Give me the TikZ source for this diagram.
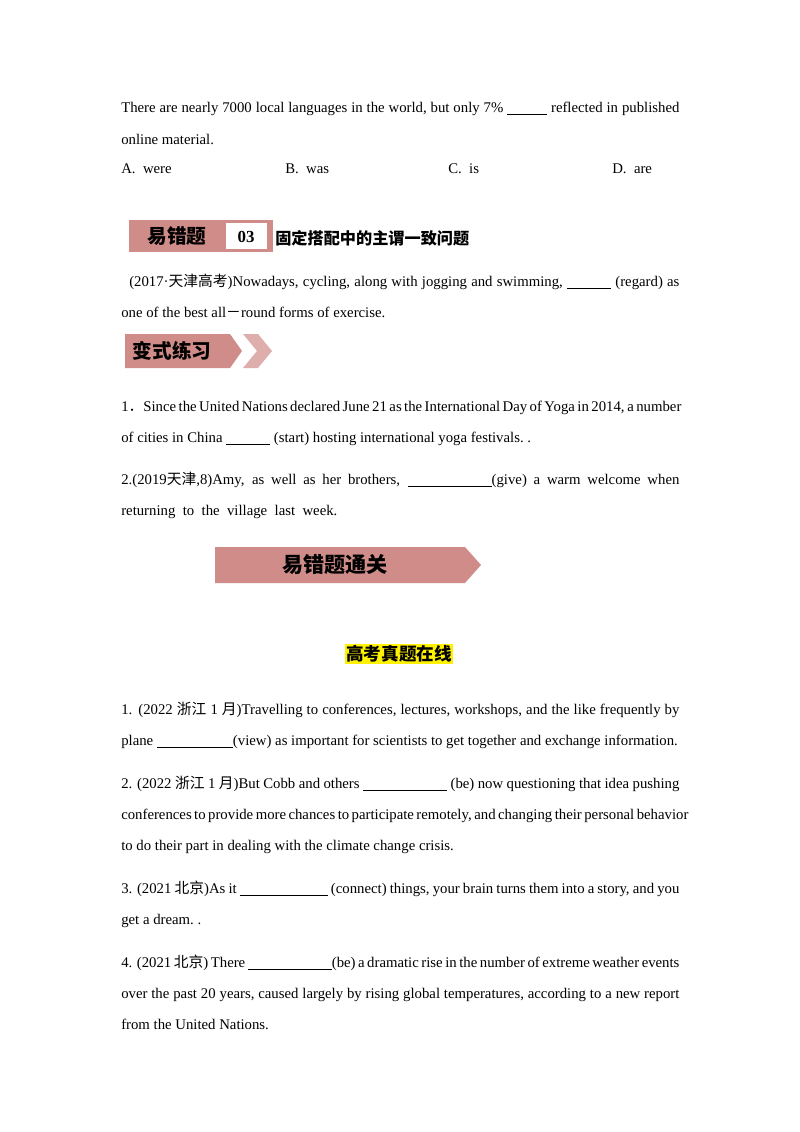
\documentclass[tikz,border=0pt]{standalone}
\usepackage{fontspec}
\setmainfont{Liberation Serif}
\newfontfamily\cjk{Noto Sans CJK SC}
\definecolor{pk}{RGB}{208,140,136}
\newcommand\jl[1]{\makebox[13.95cm][s]{#1}}
\newcommand\bl{\underline{\hspace{1.1cm}}}
\begin{document}
\begin{tikzpicture}[x=0.025cm,y=-0.025cm,
  tx/.style={anchor=base west,inner sep=0,font=\fontsize{10.5}{12}\selectfont},
  bn/.style={font=\cjk\bfseries\fontsize{14}{16}\selectfont,inner sep=0}]
\useasboundingbox (0,0) rectangle (800,1132);
\node[tx] (l1) at (121,112) {\jl{There are nearly 7000 local languages in the world, but only 7\% \underline{\hspace{1cm}} reflected in published}};
\node[tx] (l2) at (121,144) {online material.};
\node[tx] (a) at (121,173) {A.\ \ were};
\node[tx] (b) at (285,173) {B.\ \ was};
\node[tx] (c) at (448,173) {C.\ \ is};
\node[tx] (d) at (612,173) {D.\ \ are};
% banner 1
\fill[pk] (129,220) rectangle (273,252);
\fill[white] (226,223) rectangle (267,249);
\node[bn] (b1) at (177,236) {易错题};
\node[font=\bfseries\fontsize{12}{14}\selectfont,inner sep=0] (n03) at (246,237) {03};
\node[tx,anchor=west,font=\cjk\bfseries\fontsize{11.5}{13}\selectfont] (t1) at (275,238) {固定搭配中的主谓一致问题};
\node[tx] (l3) at (129,286) {\makebox[13.75cm][s]{(2017·{\cjk 天津高考})Nowadays, cycling, along with jogging and swimming, \bl\ (regard) as}};
\node[tx] (l4) at (121,317) {one of the best all{\cjk －}round forms of exercise.};
% banner 2
\fill[pk] (125,334) -- (230,334) -- (242,351) -- (230,368) -- (125,368) -- cycle;
\fill[pk!70] (243,334) -- (258,334) -- (272,351) -- (258,368) -- (243,368) -- (257,351) -- cycle;
\node[bn] (b2) at (172,351) {变式练习};
\node[tx] (l5) at (121,411) {\jl{1{\cjk ．}Since the United Nations declared June 21 as the International Day of Yoga in 2014, a number}};
\node[tx] (l6) at (121,442) {of cities in China \bl\ (start) hosting international yoga festivals.\ .};
\node[tx] (l7) at (121,484) {\jl{2.(2019{\cjk 天津},8)Amy, as well as her brothers, \underline{\hspace{2.1cm}}(give) a warm welcome when}};
\node[tx] (l8) at (121,515) {returning\ \ to\ \ the\ \ village\ \ last\ \ week.};
% banner 3
\fill[pk] (215,547) -- (465,547) -- (481,565) -- (465,583) -- (215,583) -- cycle;
\node[bn,font=\cjk\bfseries\fontsize{15}{17}\selectfont] (b3) at (335,565) {易错题通关};
\node[fill=yellow,inner sep=1pt,font=\cjk\bfseries\fontsize{12.5}{14}\selectfont] (h) at (399,654) {高考真题在线};
\node[tx] (p1) at (121,714) {\jl{1. (2022 {\cjk 浙江} 1 {\cjk 月})Travelling to conferences, lectures, workshops, and the like frequently by}};
\node[tx] (p2) at (121,745) {plane \underline{\hspace{1.9cm}}(view) as important for scientists to get together and exchange information.};
\node[tx] (p3) at (121,788) {\jl{2. (2022 {\cjk 浙江} 1 {\cjk 月})But Cobb and others \underline{\hspace{2.1cm}} (be) now questioning that idea pushing}};
\node[tx] (p4) at (121,819) {\jl{conferences to provide more chances to participate remotely, and changing their personal behavior}};
\node[tx] (p5) at (121,850) {to do their part in dealing with the climate change crisis.};
\node[tx] (p6) at (121,893) {\jl{3. (2021 {\cjk 北京})As it \underline{\hspace{2.2cm}} (connect) things, your brain turns them into a story, and you}};
\node[tx] (p7) at (121,924) {get a dream.\ .};
\node[tx] (p8) at (121,967) {\jl{4. (2021 {\cjk 北京}) There \underline{\hspace{2.1cm}}(be) a dramatic rise in the number of extreme weather events}};
\node[tx] (p9) at (121,998) {\jl{over the past 20 years, caused largely by rising global temperatures, according to a new report}};
\node[tx] (p10) at (121,1029) {from the United Nations.};
\end{tikzpicture}
\end{document}
